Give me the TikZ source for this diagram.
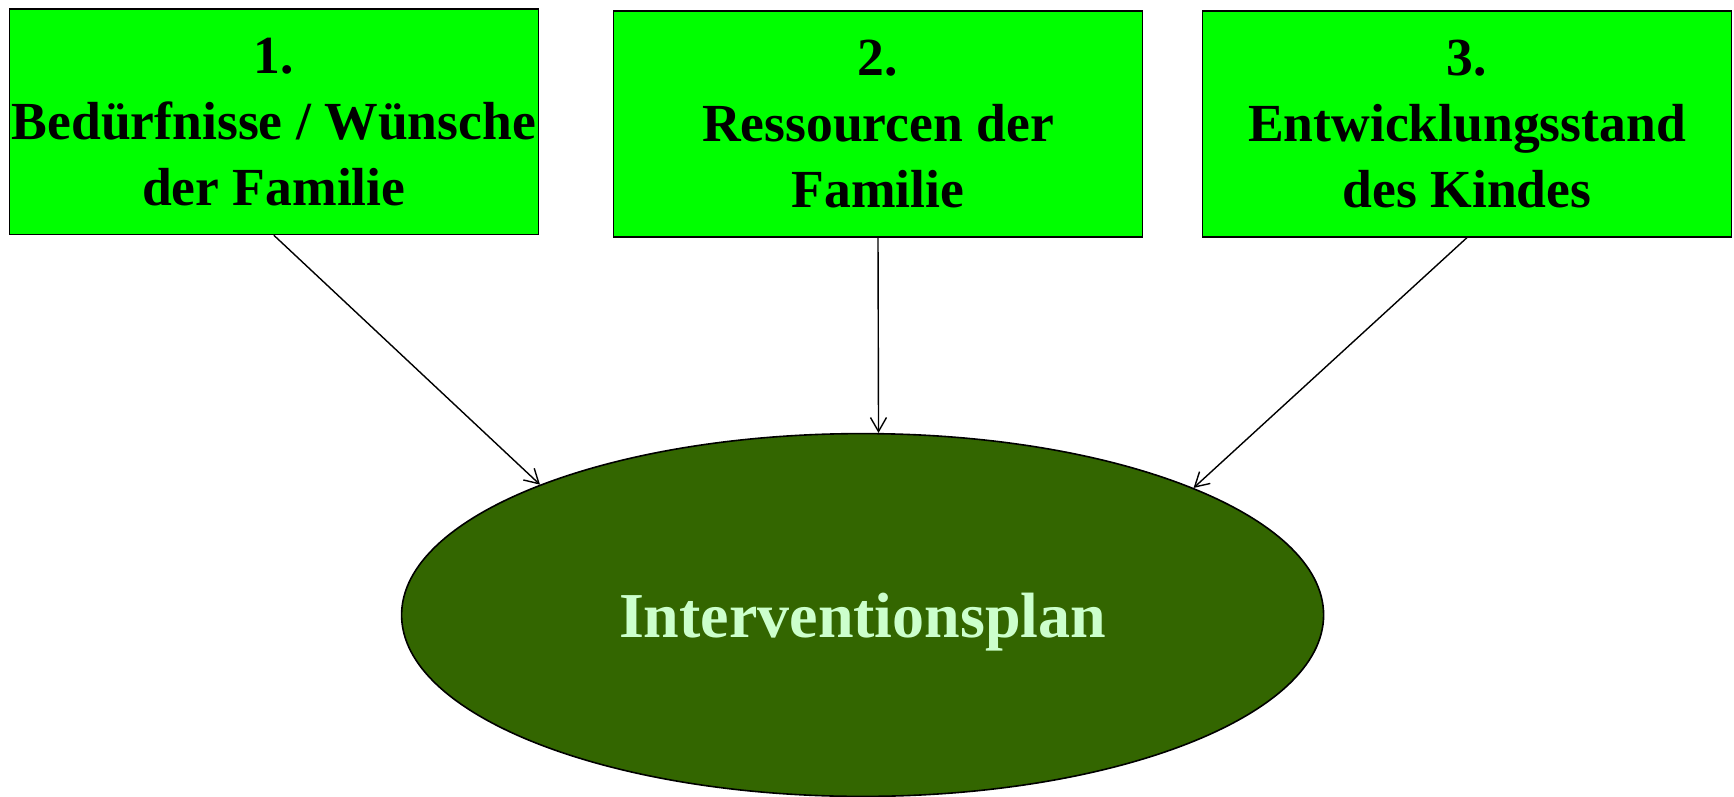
\documentclass[tikz,border=0pt]{standalone}
\usepackage{fontspec}
\setmainfont{Liberation Serif}
\usetikzlibrary{shapes.geometric,arrows.meta}
\definecolor{boxgreen}{HTML}{00FF00}
\definecolor{plangreen}{HTML}{336600}
\definecolor{plantext}{HTML}{CCFFCC}
\tikzset{
  factor/.style={draw,line width=0.8pt,fill=boxgreen,inner sep=0pt,
    minimum width=264.5pt,minimum height=112.8pt,align=center,
    font=\bfseries\fontsize{26.8}{33}\selectfont},
  plan/.style={ellipse,draw,line width=0.8pt,fill=plangreen,inner sep=0pt,
    minimum width=461pt,minimum height=181.4pt,
    font=\bfseries\fontsize{32}{38}\selectfont},
  link/.style={line width=0.7pt,-{Straight Barb[length=7pt,width=8pt]}}
}
\begin{document}
\begin{tikzpicture}[x=1pt,y=1pt]
\useasboundingbox (0,0) rectangle (867,-398.5);

\node[factor] (needs) at (136.9,-60.8) {1.\\Bedürfnisse / Wünsche\\der Familie};
\node[factor] (resources) at (439,-62) {2.\\Ressourcen der\\Familie};
\node[factor] (development) at (733.5,-62) {3.\\Entwicklungsstand\\des Kindes};

\node[plan] (interv) at (431.3,-307.5) {};
\node[text=plantext,font=\bfseries\fontsize{32}{38}\selectfont] (intervlabel)
  at (431.3,-311) {Interventionsplan};

\draw[link] (needs.south) -- (interv.158.5);
\draw[link] (resources.south) -- (interv.85.1);
\draw[link] (development.south) -- (interv.21.5);
\end{tikzpicture}
\end{document}
